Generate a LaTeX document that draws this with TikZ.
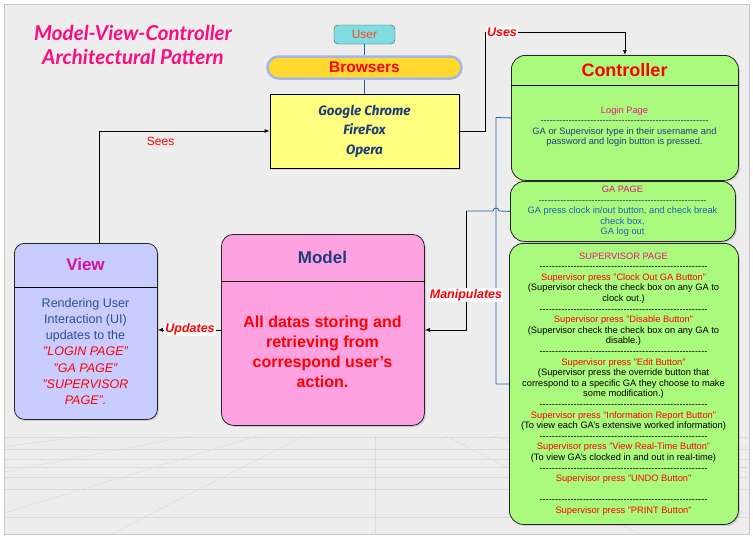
\documentclass[tikz,border=0pt]{standalone}
\usepackage{fontspec}
\setmainfont{Liberation Sans}
\newfontfamily\titlefont{Lato}
\newfontfamily\browserfont{Fira Sans}
\usepackage{tikz}
\usetikzlibrary{positioning, arrows.meta, shadows}

\definecolor{pagebg}{HTML}{EDEDED}
\definecolor{framegray}{HTML}{C8C8C8}
\definecolor{gridgray}{HTML}{DADADA}
\definecolor{titlepink}{HTML}{FF0A7F}
\definecolor{usercyan}{HTML}{7FDCE0}
\definecolor{userorange}{HTML}{FF4A1A}
\definecolor{pillgold}{HTML}{FFD92E}
\definecolor{pillblue}{HTML}{A6B6E6}
\definecolor{listyellow}{HTML}{FFFF80}
\definecolor{navytxt}{HTML}{1F3C7A}
\definecolor{ctrlgreen}{HTML}{AAFB7D}
\definecolor{magentatxt}{HTML}{E8137E}
\definecolor{gablue}{HTML}{1F5FB8}
\definecolor{viewblue}{HTML}{C8CCFF}
\definecolor{modelpink}{HTML}{FFA2E2}
\definecolor{viewmagenta}{HTML}{D4109A}
\definecolor{viewtext}{HTML}{2E4F8F}
\definecolor{linkblue}{HTML}{2060A8}

\newcommand{\dashrow}{\hbox to 168pt{\xleaders\hbox{-}\hfil}}

\begin{document}
\begin{tikzpicture}[x=1pt, y=-1pt,
    box/.style={draw=black!85, line width=0.8pt, rounded corners=14pt, anchor=north west,
        inner sep=0pt, drop shadow={opacity=0.3, shadow xshift=1.5pt, shadow yshift=-1.5pt}},
    headsep/.style={draw=black, line width=0.8pt},
    conn/.style={draw=black, line width=0.8pt},
    bluelink/.style={draw=linkblue, line width=0.8pt},
    lbl/.style={text=red, font=\bfseries\itshape\fontsize{12.5}{14}\selectfont, fill=white, inner sep=1pt},
    small/.style={align=center, font=\fontsize{9.3}{10.6}\selectfont}]
    \useasboundingbox (0,0) rectangle (753,539);

    % Page and floor
    \fill[white] (0,0) rectangle (753,539);
    \draw[framegray, fill=pagebg] (4,4) rectangle (749,534);
    \begin{scope}
        \clip (5,436) rectangle (748,533);
        \foreach \yy in {437,449,459,467,477,489,517}
            \draw[gridgray] (5,\yy) -- (748,\yy);
        \foreach \xx in {-900,-450,-150,60,375,690,900,1200,1650}
            \draw[gridgray] (375,400) -- (\xx,560);
    \end{scope}

    % Title
    \node[font=\titlefont\bfseries\itshape\fontsize{20.5}{24}\selectfont, text=titlepink, align=center]
        (title) at (133,45) {Model-View-Controller\\Architectural Pattern};

    % User and browsers
    \node[draw=black!70, fill=usercyan, rounded corners=4pt, minimum width=61, minimum height=19,
        inner sep=0pt, text=userorange, font=\fontsize{12}{13}\selectfont] (user) at (364.5,34.5) {User};
    \node[draw=pillblue, line width=2.5pt, fill=pillgold, rounded corners=11pt, minimum width=194,
        minimum height=22, inner sep=0pt, text=red, font=\bfseries\fontsize{15.5}{16}\selectfont]
        (browsers) at (364.5,67.5) {Browsers};
    \node[draw=black, line width=0.8pt, fill=listyellow, minimum width=189, minimum height=74,
        inner sep=0pt, align=center, text=navytxt, font=\browserfont\bfseries\itshape\fontsize{13.5}{19.5}\selectfont,
        drop shadow={opacity=0.25, shadow xshift=1.5pt, shadow yshift=-1.5pt}]
        (browserlist) at (364.5,131) {Google Chrome\\FireFox\\Opera};
    \draw[bluelink] (user) -- (browsers);
    \draw[bluelink] (browsers) -- (browserlist);

    % Controller
    \node[box, fill=ctrlgreen, minimum width=227, minimum height=125] (controller) at (511,55) {};
    \node[text=red, font=\bfseries\fontsize{18}{20}\selectfont] (controllertitle) at (624.5,70) {Controller};
    \draw[headsep] (controller.west |- 0,85) -- (controller.east |- 0,85);
    \node[small, text=navytxt] (logintext) at (624.5,126.5)
        {\textcolor{magentatxt}{Login Page}\\
         \dashrow\\
         GA or Supervisor type in their username and\\
         password and login button is pressed.};

    \node[box, fill=ctrlgreen, minimum width=225, minimum height=60] (gapage) at (510,181) {};
    \node[small, text=gablue] (gatext) at (622.5,211.5)
        {\textcolor{magentatxt}{GA PAGE}\\
         \textcolor{navytxt}{\dashrow}\\
         GA press clock in/out button, and check break\\
         check box,\\
         GA log out};

    \node[box, fill=ctrlgreen, minimum width=229, minimum height=281] (suppage) at (509,243) {};
    \node[small] (suptext) at (623.5,384)
        {\textcolor{magentatxt}{SUPERVISOR PAGE}\\
         \dashrow\\
         \textcolor{red}{Supervisor press "Clock Out GA Button"}\\
         (Supervisor check the check box on any GA to\\
         clock out.)\\
         \dashrow\\
         \textcolor{red}{Supervisor press "Disable Button"}\\
         (Supervisor check the check box on any GA to\\
         disable.)\\
         \dashrow\\
         \textcolor{red}{Supervisor press "Edit Button"}\\
         (Supervisor press the override button that\\
         correspond to a specific GA they choose to make\\
         some modification.)\\
         \dashrow\\
         \textcolor{red}{Supervisor press "Information Report Button"}\\
         (To view each GA's extensive worked information)\\
         \dashrow\\
         \textcolor{red}{Supervisor press "View Real-Time Button"}\\
         (To view GA's clocked in and out in real-time)\\
         \dashrow\\
         \textcolor{red}{Supervisor press "UNDO Button"}\\[10.6pt]
         \dashrow\\
         \textcolor{red}{Supervisor press "PRINT Button"}};

    % View
    \node[box, rounded corners=10pt, fill=viewblue, minimum width=143, minimum height=176] (view) at (14,243) {};
    \node[text=viewmagenta, font=\bfseries\fontsize{17}{19}\selectfont] (viewtitle) at (85.5,264) {View};
    \draw[headsep] (view.west |- 0,287) -- (view.east |- 0,287);
    \node[align=center, text=viewtext, font=\fontsize{12.5}{16.2}\selectfont] (viewtext) at (85.5,351.5)
        {Rendering User\\
         Interaction (UI)\\
         updates to the\\
         \textcolor{red}{\itshape "LOGIN PAGE"}\\
         \textcolor{red}{\itshape "GA PAGE"}\\
         \textcolor{red}{\itshape "SUPERVISOR}\\
         \textcolor{red}{\itshape PAGE".}};

    % Model
    \node[box, rounded corners=12pt, fill=modelpink, minimum width=203, minimum height=191] (model) at (221,234) {};
    \node[text=navytxt, font=\bfseries\fontsize{17}{19}\selectfont] (modeltitle) at (322.5,257) {Model};
    \draw[headsep] (model.west |- 0,281) -- (model.east |- 0,281);
    \node[align=center, text=red, font=\bfseries\fontsize{16}{20}\selectfont] (modeltext) at (322.5,352)
        {All datas storing and\\
         retrieving from\\
         correspond user's\\
         action.};

    % Connectors
    \coordinate (usesbend) at (485,32);
    \coordinate (bracketx) at (496,117.5);
    \coordinate (hop) at (499,211);
    \coordinate (manipbend) at (466,211);

    \draw[conn, -{Latex[length=5pt,width=4pt]}] ([xshift=13.5pt]view.north) |- (browserlist.west)
        node[pos=0.68, below=2pt, text=red, font=\fontsize{12}{13}\selectfont] (seeslbl) {Sees};
    \draw[conn, -{Latex[length=5pt,width=4pt]}] (browserlist.east) -| (usesbend) -| (controller.north);
    \node[lbl] (useslbl) at (502,32) {Uses};

    \draw[bluelink] (controller.west) -- (bracketx) |- (suppage.west);
    \draw[bluelink] (gapage.west) -- (hop) arc[start angle=0, end angle=-180, radius=3] -- (manipbend);
    \draw[conn, -{Latex[length=5pt,width=4pt]}] (manipbend) |- (model.east);
    \node[lbl] (maniplbl) at (466,295) {Manipulates};

    \draw[conn, -{Latex[length=5pt,width=4pt]}] (model.west) -- (view.east |- model.west);
    \node[lbl] (updateslbl) at (190,329.5) {Updates};
\end{tikzpicture}
\end{document}
